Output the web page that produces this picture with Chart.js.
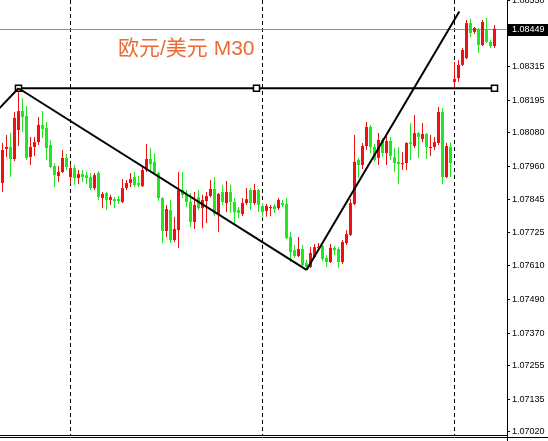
<!DOCTYPE html>
<html><head><meta charset="utf-8">
<script src="https://cdn.jsdelivr.net/npm/chart.js@4.4.0/dist/chart.umd.min.js"></script>
<style>html,body{margin:0;padding:0;background:#fff;}#wrap{width:548px;height:441px;position:relative;}</style>
</head><body><div id="wrap"><canvas id="c"></canvas></div>
<script>
const symbolTitle = '欧元/美元 M30';
const opens = [
1.07902,1.08023,1.08030,1.07987,1.08090,1.08157,1.08140,1.07994,1.08030,1.08047,
1.08108,1.08097,1.08037,1.07962,1.07927,1.07941,1.07991,1.07923,1.07955,1.07920,
1.07934,1.07930,1.07923,1.07884,1.07938,1.07849,1.07867,1.07842,1.07845,1.07845,
1.07835,1.07884,1.07902,1.07923,1.07902,1.07891,1.07948,1.07987,1.07977,1.07938,
1.07849,1.07732,1.07806,1.07700,1.07735,1.07877,1.07860,1.07835,1.07764,1.07852,
1.07813,1.07838,1.07856,1.07881,1.07792,1.07870,1.07831,1.07870,1.07835,1.07806,
1.07792,1.07831,1.07877,1.07831,1.07877,1.07821,1.07803,1.07813,1.07821,1.07813,
1.07831,1.07828,1.07711,1.07664,1.07643,1.07668,1.07618,1.07604,1.07640,1.07672,
1.07679,1.07636,1.07622,1.07672,1.07668,1.07622,1.07689,1.07718,1.07828,1.07984,
1.07966,1.08033,1.08101,1.08030,1.07991,1.08055,1.08008,1.08051,1.07994,1.07977,
1.07969,1.07973,1.08047,1.08033,1.08079,1.08058,1.08076,1.08026,1.08030,1.08044,
1.08154,1.07923,1.08030,1.08260,1.08274,1.08321,1.08345,1.08469,1.08438,1.08445,
1.08391,1.08445,1.08402,1.08388];
const highs = [
1.08044,1.08072,1.08079,1.08154,1.08238,1.08203,1.08175,1.08065,1.08065,1.08136,
1.08157,1.08118,1.08055,1.07973,1.07962,1.08019,1.08005,1.07969,1.07966,1.07948,
1.07948,1.07941,1.07938,1.07938,1.07945,1.07870,1.07870,1.07860,1.07852,1.07856,
1.07916,1.07913,1.07938,1.07941,1.07927,1.07959,1.08040,1.08026,1.08008,1.07941,
1.07852,1.07824,1.07842,1.07782,1.07941,1.07941,1.07877,1.07867,1.07870,1.07877,
1.07860,1.07870,1.07913,1.07923,1.07867,1.07895,1.07909,1.07895,1.07849,1.07817,
1.07849,1.07884,1.07884,1.07899,1.07881,1.07831,1.07828,1.07824,1.07828,1.07849,
1.07842,1.07849,1.07728,1.07682,1.07711,1.07682,1.07629,1.07675,1.07686,1.07689,
1.07682,1.07647,1.07686,1.07679,1.07675,1.07700,1.07735,1.07845,1.08072,1.07991,
1.08044,1.08118,1.08108,1.08040,1.08079,1.08062,1.08069,1.08065,1.08026,1.08030,
1.08012,1.08047,1.08115,1.08143,1.08083,1.08115,1.08079,1.08072,1.08065,1.08172,
1.08168,1.08044,1.08047,1.08331,1.08338,1.08381,1.08480,1.08484,1.08455,1.08452,
1.08480,1.08487,1.08409,1.08462];
const lows = [
1.07870,1.07994,1.07923,1.07980,1.08033,1.08083,1.07984,1.07966,1.07998,1.08037,
1.08062,1.07984,1.07955,1.07888,1.07906,1.07938,1.07948,1.07899,1.07895,1.07899,
1.07906,1.07899,1.07877,1.07877,1.07842,1.07813,1.07806,1.07824,1.07813,1.07828,
1.07831,1.07877,1.07888,1.07888,1.07888,1.07888,1.07941,1.07948,1.07930,1.07838,
1.07689,1.07711,1.07689,1.07693,1.07672,1.07849,1.07817,1.07746,1.07739,1.07806,
1.07742,1.07760,1.07852,1.07785,1.07728,1.07824,1.07799,1.07796,1.07753,1.07778,
1.07785,1.07824,1.07806,1.07824,1.07799,1.07778,1.07782,1.07785,1.07796,1.07806,
1.07817,1.07703,1.07622,1.07636,1.07640,1.07604,1.07594,1.07601,1.07636,1.07664,
1.07625,1.07604,1.07618,1.07647,1.07601,1.07615,1.07682,1.07714,1.07824,1.07920,
1.07952,1.08019,1.08008,1.07977,1.07966,1.07994,1.07966,1.07984,1.07941,1.07899,
1.07948,1.07948,1.07984,1.08026,1.07991,1.08047,1.07987,1.07998,1.08019,1.08037,
1.07899,1.07920,1.07923,1.08242,1.08260,1.08317,1.08342,1.08420,1.08430,1.08363,
1.08388,1.08399,1.08381,1.08381];
const closes = [
1.08019,1.08030,1.07987,1.08133,1.08157,1.08136,1.07991,1.08030,1.08047,1.08108,
1.08094,1.08026,1.07959,1.07930,1.07941,1.07991,1.07959,1.07955,1.07920,1.07934,
1.07923,1.07920,1.07884,1.07930,1.07852,1.07863,1.07842,1.07852,1.07838,1.07838,
1.07884,1.07902,1.07916,1.07895,1.07895,1.07948,1.07987,1.07969,1.07938,1.07849,
1.07732,1.07810,1.07700,1.07739,1.07877,1.07860,1.07835,1.07764,1.07824,1.07813,
1.07842,1.07856,1.07881,1.07792,1.07863,1.07835,1.07870,1.07835,1.07799,1.07796,
1.07831,1.07845,1.07831,1.07877,1.07824,1.07799,1.07821,1.07817,1.07810,1.07842,
1.07824,1.07707,1.07657,1.07643,1.07668,1.07611,1.07604,1.07654,1.07675,1.07675,
1.07633,1.07622,1.07672,1.07664,1.07622,1.07693,1.07721,1.07831,1.07977,1.07966,
1.08033,1.08101,1.08030,1.07984,1.08055,1.08008,1.08051,1.07998,1.07973,1.07969,
1.07973,1.08044,1.08040,1.08079,1.08065,1.08076,1.08030,1.08030,1.08047,1.08154,
1.07923,1.08033,1.07973,1.08271,1.08321,1.08374,1.08469,1.08434,1.08452,1.08391,
1.08473,1.08402,1.08388,1.08449];
const yTickValues = [1.08550,1.08435,1.08315,1.08195,1.08080,1.07960,1.07845,1.07725,1.07610,1.07490,1.07370,1.07255,1.07135,1.07020];
const currentPrice = 1.08449;
const separatorBars = [17, 65, 113];
const trendPrev = [{x:-3, y:1.08134}, {x:4, y:1.08238}];
const trendDown = [{x:4, y:1.08238}, {x:76, y:1.07594}];
const trendUp = [{x:76, y:1.07594}, {x:114.2, y:1.08510}];
const hLine = [{x:4, y:1.08238}, {x:63.5, y:1.08238}, {x:123, y:1.08238}];

const upColor = '#ee1111', downColor = '#22e622';
const candleColors = opens.map((o,i) => closes[i] >= o ? upColor : downColor);
const wickData = highs.map((h,i) => ({x:i, y:[lows[i], h]}));
const bodyData = opens.map((o,i) => ({x:i, y:[o, closes[i]]}));

const decor = {
  id: 'decor',
  beforeDatasetsDraw(chart) {
    const {ctx, chartArea: a, scales: {x, y}} = chart;
    ctx.save();
    ctx.strokeStyle = '#000'; ctx.lineWidth = 1; ctx.setLineDash([4,3]);
    separatorBars.forEach(b => {
      const px = Math.round(x.getPixelForValue(b)) - 0.5;
      ctx.beginPath(); ctx.moveTo(px, a.top); ctx.lineTo(px, a.bottom); ctx.stroke();
    });
    ctx.setLineDash([]);
    ctx.strokeStyle = '#8a9096';
    const py = Math.round(y.getPixelForValue(currentPrice)) + 0.5;
    ctx.beginPath(); ctx.moveTo(a.left, py); ctx.lineTo(a.right, py); ctx.stroke();
    ctx.restore();
  },
  afterDatasetsDraw(chart) {
    const {ctx, chartArea: a, scales: {y}} = chart;
    ctx.save();
    ctx.font = '21px "Liberation Sans", "Noto Sans CJK SC"';
    ctx.fillStyle = '#ee6a35';
    ctx.textBaseline = 'middle'; ctx.textAlign = 'left';
    ctx.fillText(symbolTitle, 118, 49);
    const py = Math.round(y.getPixelForValue(currentPrice));
    ctx.fillStyle = '#000';
    ctx.fillRect(a.right + 1, py - 5, chart.width - a.right - 1, 12);
    ctx.fillStyle = '#fff';
    ctx.font = '9px "Liberation Sans"';
    ctx.fillText(currentPrice.toFixed(5), a.right + 5, py + 1);
    ctx.strokeStyle = '#000'; ctx.lineWidth = 1;
    ctx.beginPath(); ctx.moveTo(0, a.bottom - 0.5); ctx.lineTo(a.right, a.bottom - 0.5); ctx.stroke();
    ctx.beginPath(); ctx.moveTo(0, a.bottom + 1.5); ctx.lineTo(chart.width, a.bottom + 1.5); ctx.stroke();
    ctx.beginPath(); ctx.moveTo(a.right + 0.5, a.bottom); ctx.lineTo(a.right + 0.5, chart.height); ctx.stroke();
    ctx.restore();
  }
};

const lineDs = (data, extra) => Object.assign({
  type: 'line', data, borderColor: '#000', borderWidth: 2, pointRadius: 0,
  fill: false, tension: 0, order: 0
}, extra || {});

new Chart(document.getElementById('c'), {
  type: 'bar',
  data: {
    datasets: [
      lineDs(trendPrev),
      lineDs(trendDown),
      lineDs(trendUp),
      lineDs(hLine, {pointRadius: 4.3, pointStyle: 'rect', pointBackgroundColor: '#fff',
        pointBorderColor: '#000', pointBorderWidth: 1.5}),
      {type: 'bar', data: bodyData, backgroundColor: candleColors, barThickness: 3,
        grouped: false, borderWidth: 0, inflateAmount: 0, minBarLength: 1, order: 1},
      {type: 'bar', data: wickData, backgroundColor: candleColors, barThickness: 1,
        grouped: false, borderWidth: 0, inflateAmount: 0, order: 2}
    ]
  },
  options: {
    responsive: true, maintainAspectRatio: false, animation: false, events: [],
    layout: {autoPadding: false, padding: {left: 0, right: 0, top: 0, bottom: 5}},
    plugins: {legend: {display: false}, tooltip: {enabled: false}, title: {display: false}},
    scales: {
      x: {type: 'linear', min: -0.625, max: 126.125, offset: false, display: false},
      y: {
        position: 'right', min: 1.07005, max: 1.08551,
        afterBuildTicks: s => { s.ticks = yTickValues.map(v => ({value: v})); },
        afterFit: s => { s.width = 41; s.paddingTop = 0; s.paddingBottom = 0; },
        ticks: {autoSkip: false, color: '#000', padding: 2,
          font: {family: 'Liberation Sans', size: 9},
          callback: v => Number(v).toFixed(5)},
        grid: {drawOnChartArea: false, tickLength: 3, color: '#000'},
        border: {color: '#000', width: 1}
      }
    }
  },
  plugins: [decor]
});
</script></body></html>
